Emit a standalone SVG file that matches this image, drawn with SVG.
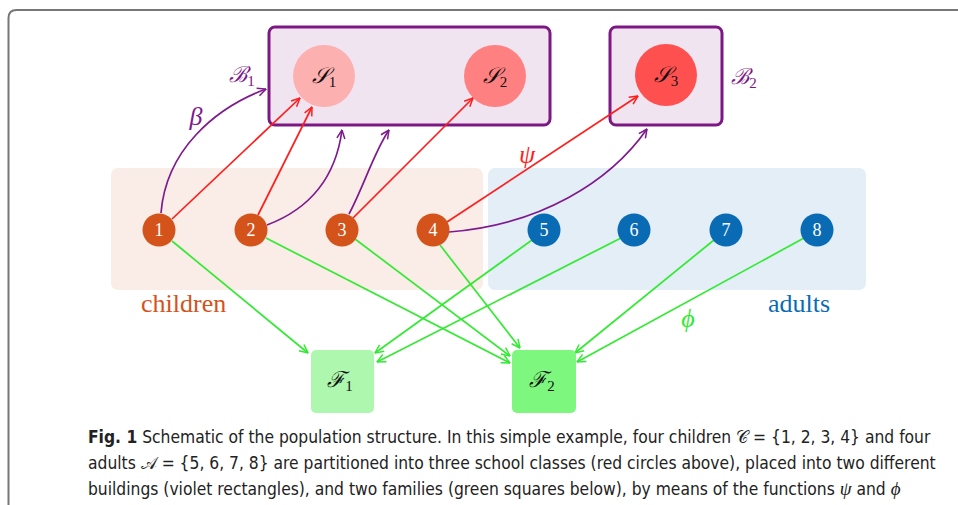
<svg xmlns="http://www.w3.org/2000/svg" width="958" height="505" viewBox="0 0 958 505">
<style>
.bld{fill:#F0E4F1;stroke:#7D1783;stroke-width:3}
.sc{font-family:"DejaVu Serif","Liberation Serif",serif;font-size:22px;fill:#111;text-anchor:middle;font-style:italic}
.sub{font-size:15px;font-style:normal;font-family:"Liberation Serif",serif}
.ch{fill:#D4531B}
.ad{fill:#0A6BB5}
.num{font-family:"Liberation Serif",serif;font-size:18px;fill:#fff;text-anchor:middle}
.lab{font-family:"Liberation Serif",serif;font-size:26px}
.red{stroke:#FF1E1E;stroke-width:1.7;fill:none}
.pur{stroke:#7E1A8E;stroke-width:1.7;fill:none}
.grn{stroke:#33EA33;stroke-width:1.7;fill:none}
.cap{font-family:"Liberation Sans Narrow","DejaVu Sans Condensed",sans-serif;font-size:17.3px;fill:#222}
.gi{font-family:"Liberation Serif",serif;font-style:italic;font-size:19px}
.greek{font-family:"Liberation Serif",serif;font-style:italic;font-size:26px}
</style>
<defs>
<marker id="mr" viewBox="0 0 10 10" refX="9.5" refY="5" markerWidth="10" markerHeight="10" markerUnits="userSpaceOnUse" orient="auto"><path d="M1,1 L9.5,5 L1,9" fill="none" stroke="#FF1E1E" stroke-width="1.5"/></marker>
<marker id="mp" viewBox="0 0 10 10" refX="9.5" refY="5" markerWidth="10" markerHeight="10" markerUnits="userSpaceOnUse" orient="auto"><path d="M1,1 L9.5,5 L1,9" fill="none" stroke="#7E1A8E" stroke-width="1.5"/></marker>
<marker id="mg" viewBox="0 0 10 10" refX="9.5" refY="5" markerWidth="10" markerHeight="10" markerUnits="userSpaceOnUse" orient="auto"><path d="M1,1 L9.5,5 L1,9" fill="none" stroke="#33EA33" stroke-width="1.5"/></marker>
</defs>
<rect width="958" height="505" fill="#fff"/>
<path d="M8.5,505 V18 Q8.5,10 16.5,10 H958" fill="none" stroke="#777" stroke-width="2"/>

<g id="children-group">
<rect x="111" y="168" width="372" height="122" rx="7" fill="#FAECE6"/>
<text class="lab" x="141" y="312" fill="#D4531B">children</text>
</g>
<g id="adults-group">
<rect x="488" y="168" width="378" height="122" rx="7" fill="#E3EEF7"/>
<text class="lab" x="768" y="312" fill="#0A6BB5">adults</text>
</g>

<g id="B1">
<rect class="bld" x="269" y="27" width="281" height="98" rx="6"/>
<text class="sc" x="242" y="82" style="fill:#7D1783">ℬ<tspan class="sub" dy="4">1</tspan></text>
</g>
<g id="B2">
<rect class="bld" x="610" y="27" width="112" height="98" rx="6"/>
<text class="sc" x="744" y="84" style="fill:#7D1783">ℬ<tspan class="sub" dy="4">2</tspan></text>
</g>
<g id="S1"><circle cx="324" cy="76" r="31" fill="#FDB0B0"/><text class="sc" x="324" y="83">𝒮<tspan class="sub" dy="4">1</tspan></text></g>
<g id="S2"><circle cx="495" cy="76" r="31" fill="#FF8080"/><text class="sc" x="495" y="83">𝒮<tspan class="sub" dy="4">2</tspan></text></g>
<g id="S3"><circle cx="666" cy="75" r="31" fill="#FF5050"/><text class="sc" x="666" y="82">𝒮<tspan class="sub" dy="4">3</tspan></text></g>

<g id="connectors">
<path class="red" marker-end="url(#mr)" d="M172,219 L300,98"/>
<path class="red" marker-end="url(#mr)" d="M258,215 L312,107"/>
<path class="red" marker-end="url(#mr)" d="M353,218 L473,98"/>
<path class="red" marker-end="url(#mr)" d="M447,222 L638,96"/>
<path class="pur" marker-end="url(#mp)" d="M161,213 C166,150 215,108 266,89"/>
<path class="pur" marker-end="url(#mp)" d="M267,225 C312,208 336,175 342,130"/>
<path class="pur" marker-end="url(#mp)" d="M349,214 C364,186 374,152 389,130"/>
<path class="pur" marker-end="url(#mp)" d="M449,232 C540,225 610,182 647,129"/>
<path class="grn" marker-end="url(#mg)" d="M172,241 L308,353"/>
<path class="grn" marker-end="url(#mg)" d="M266,238 L510,363"/>
<path class="grn" marker-end="url(#mg)" d="M355,239 L510,356"/>
<path class="grn" marker-end="url(#mg)" d="M440,245 L520,348"/>
<path class="grn" marker-end="url(#mg)" d="M532,240 L375,353"/>
<path class="grn" marker-end="url(#mg)" d="M621,238 L377,362"/>
<path class="grn" marker-end="url(#mg)" d="M714,240 L575,353"/>
<path class="grn" marker-end="url(#mg)" d="M804,238 L577,362"/>
<text class="greek" x="196" y="125" text-anchor="middle" fill="#7E1A8E">β</text>
<text class="greek" x="527" y="163" text-anchor="middle" fill="#FF1E1E">ψ</text>
<text class="greek" x="688" y="327" text-anchor="middle" fill="#33EA33">ϕ</text>
</g>

<g id="n1"><circle class="ch" cx="159" cy="230" r="16.5"/><text class="num" x="159" y="236">1</text></g>
<g id="n2"><circle class="ch" cx="251" cy="230" r="16.5"/><text class="num" x="251" y="236">2</text></g>
<g id="n3"><circle class="ch" cx="342" cy="230" r="16.5"/><text class="num" x="342" y="236">3</text></g>
<g id="n4"><circle class="ch" cx="433" cy="230" r="16.5"/><text class="num" x="433" y="236">4</text></g>
<g id="n5"><circle class="ad" cx="544" cy="230" r="16.5"/><text class="num" x="544" y="236">5</text></g>
<g id="n6"><circle class="ad" cx="634" cy="230" r="16.5"/><text class="num" x="634" y="236">6</text></g>
<g id="n7"><circle class="ad" cx="726" cy="230" r="16.5"/><text class="num" x="726" y="236">7</text></g>
<g id="n8"><circle class="ad" cx="817" cy="230" r="16.5"/><text class="num" x="817" y="236">8</text></g>

<g id="F1"><rect x="311" y="350" width="63" height="63" rx="5" fill="#AEF7AE"/><text class="sc" x="340" y="387">ℱ<tspan class="sub" dy="4">1</tspan></text></g>
<g id="F2"><rect x="512" y="350" width="64" height="63" rx="5" fill="#7EF77E"/><text class="sc" x="542" y="387">ℱ<tspan class="sub" dy="4">2</tspan></text></g>

<g id="caption">
<text class="cap" x="88" y="443"><tspan font-weight="bold">Fig. 1</tspan>  Schematic of the population structure. In this simple example, four children 𝒞 = {1, 2, 3, 4} and four</text>
<text class="cap" x="88" y="469">adults 𝒜 = {5, 6, 7, 8} are partitioned into three school classes (red circles above), placed into two different</text>
<text class="cap" x="88" y="495">buildings (violet rectangles), and two families (green squares below), by means of the functions <tspan class="gi">ψ</tspan> and <tspan class="gi">ϕ</tspan></text>
</g>
</svg>
